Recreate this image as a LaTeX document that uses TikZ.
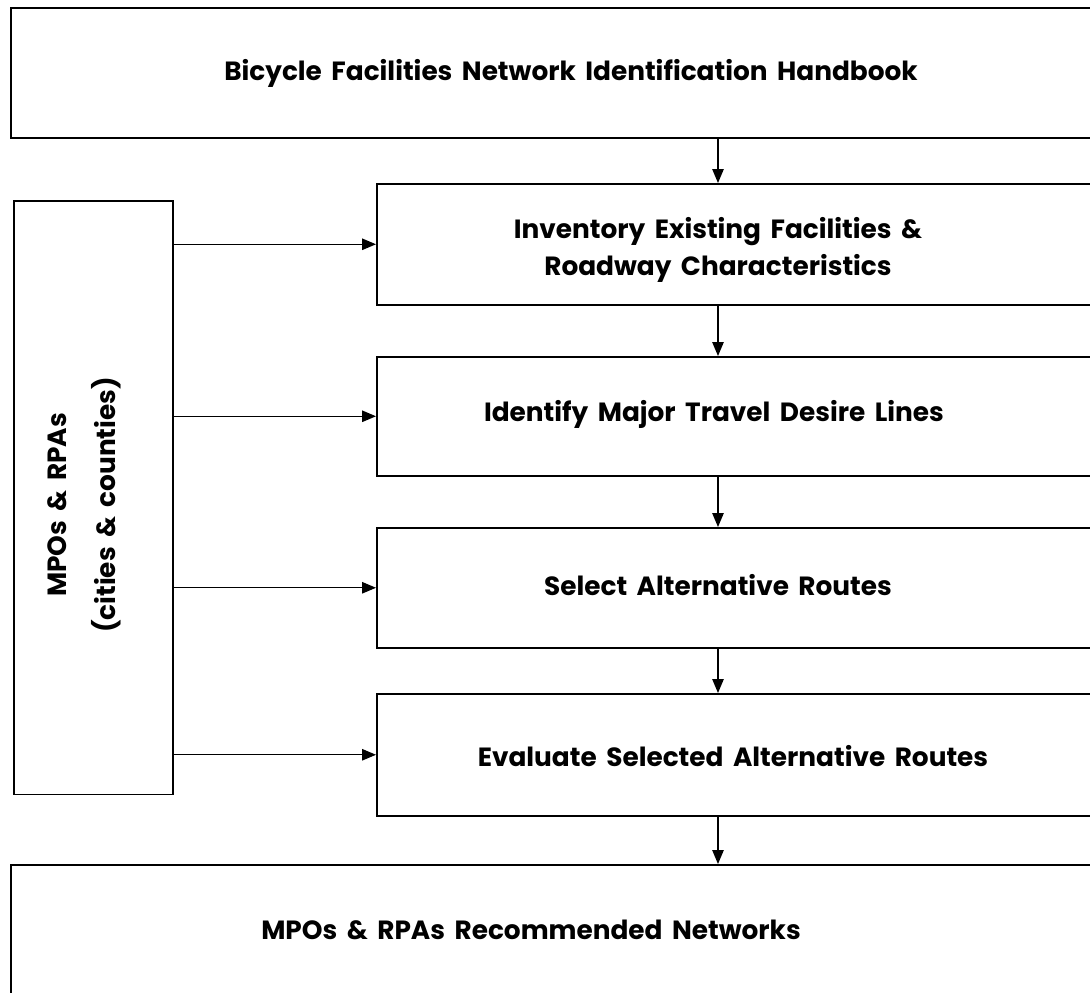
\documentclass[tikz,border=0pt]{standalone}
\usepackage{fontspec}
\setmainfont{Poppins}[WordSpace=1.7]
\usetikzlibrary{arrows.meta}

\begin{document}
\begin{tikzpicture}[x=0.02cm,y=-0.02cm,>={Triangle[length=2.8mm,width=2.3mm]},
	box/.style={draw,line width=0.9pt,rectangle,anchor=north west,inner sep=0pt},
	lbl/.style={font=\bfseries\fontsize{15}{21}\selectfont,align=center,inner sep=0pt},
	flow/.style={->,line width=0.7pt}]
	\useasboundingbox (0,0) rectangle (1090,993);

	\node[box,minimum width=22.6cm,minimum height=2.6cm] (hb) at (10,7){};
	\node[box,minimum width=15.28cm,minimum height=2.42cm] (inv) at (376,183){};
	\node[box,minimum width=15.28cm,minimum height=2.38cm] (ident) at (376,356){};
	\node[box,minimum width=15.28cm,minimum height=2.4cm] (sel) at (376,527){};
	\node[box,minimum width=15.28cm,minimum height=2.44cm] (eval) at (376,693){};
	\node[box,minimum width=22.6cm,minimum height=2.8cm] (rec) at (10,864){};
	\node[box,minimum width=3.18cm,minimum height=11.88cm] (mpo) at (13,200){};

	\node[lbl] (hbT) at (571,73){Bicycle Facilities Network Identification Handbook};
	\node[lbl] (invT) at (718,250){Inventory Existing Facilities \&\\Roadway Characteristics};
	\node[lbl] (identT) at (714,414){Identify Major Travel Desire Lines};
	\node[lbl] (selT) at (718,585){Select Alternative Routes};
	\node[lbl] (evalT) at (733,756){Evaluate Selected Alternative Routes};
	\node[lbl] (recT) at (531,930){MPOs \& RPAs Recommended Networks};
	\node[lbl,rotate=90] (mpoT) at (84,505){MPOs \& RPAs\\[7pt](cities \& counties)};

	\draw[flow] (hb.south -| invT) -- (inv.north -| invT);
	\draw[flow] (inv.south -| invT) -- (ident.north -| invT);
	\draw[flow] (ident.south -| invT) -- (sel.north -| invT);
	\draw[flow] (sel.south -| invT) -- (eval.north -| invT);
	\draw[flow] (eval.south -| invT) -- (rec.north -| invT);

	\draw[flow] (mpo.east |- inv.west) -- (inv.west);
	\draw[flow] (mpo.east |- ident.west) -- (ident.west);
	\draw[flow] (mpo.east |- sel.west) -- (sel.west);
	\draw[flow] (mpo.east |- eval.west) -- (eval.west);
\end{tikzpicture}
\end{document}
